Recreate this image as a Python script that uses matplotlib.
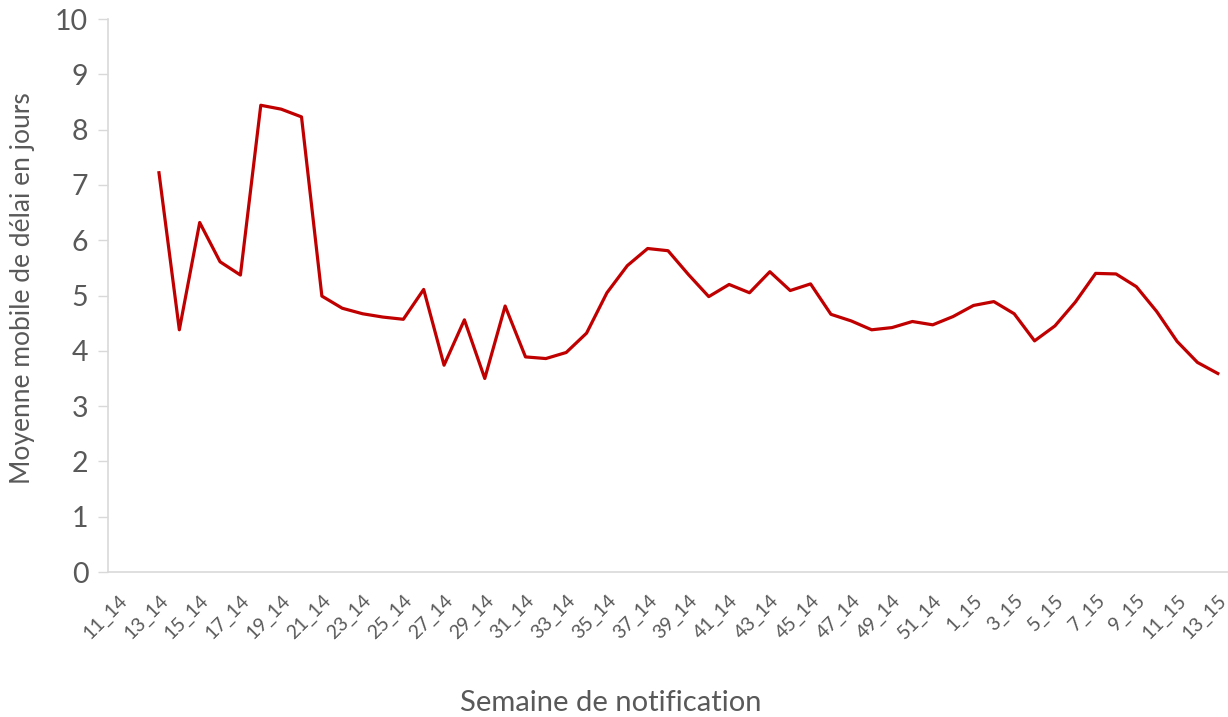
import numpy as np
import matplotlib.pyplot as plt

# weeks 11_14 .. 52_14 then 1_15 .. 13_15
semaines = [f"{w}_14" for w in range(11, 53)] + [f"{w}_15" for w in range(1, 14)]

# moving average of delay (days), nothing for the first two weeks
delai = [np.nan, np.nan,
         7.22, 4.38, 6.32, 5.61, 5.37, 8.44, 8.37, 8.23, 4.99, 4.77,
         4.67, 4.61, 4.57, 5.11, 3.74, 4.56, 3.50, 4.81, 3.89, 3.86,
         3.97, 4.32, 5.05, 5.54, 5.85, 5.81, 5.38, 4.98, 5.20, 5.05,
         5.43, 5.09, 5.21, 4.66, 4.54, 4.38, 4.42, 4.53, 4.47, 4.62,
         4.82, 4.89, 4.67, 4.18, 4.45, 4.88, 5.40, 5.39, 5.16, 4.71,
         4.17, 3.79, 3.59]

plt.rcParams['font.family'] = ['Lato', 'DejaVu Sans']
gris = '#595959'

fig = plt.figure(figsize=(12.28, 7.17), dpi=100)
ax = fig.add_axes([0.088, 0.2022, 0.912, 0.7713])

x = np.arange(len(semaines))
ax.plot(x, delai, color='#C00000', lw=2.3)

ax.set_xlim(-0.5, len(semaines) - 0.5)
ax.set_ylim(0, 10)
ax.set_yticks(range(0, 11))
ax.tick_params(axis='y', labelsize=20.5, colors='#d9d9d9', labelcolor=gris,
               length=7.2, width=1, pad=7)

ax.set_xticks(x[::2])
ax.set_xticklabels(semaines[::2], rotation=45, ha='right',
                   rotation_mode='anchor', fontsize=14, color=gris)
ax.tick_params(axis='x', length=0, pad=14)

for s in ['top', 'right']:
    ax.spines[s].set_visible(False)
for s in ['left', 'bottom']:
    ax.spines[s].set_color('#d9d9d9')
    ax.spines[s].set_linewidth(1.2)

fig.text(0.018, 0.598, 'Moyenne mobile de délai en jours', fontsize=19, color=gris,
         rotation=90, ha='center', va='center')
fig.text(0.497, 0.008, 'Semaine de notification', fontsize=21, color=gris,
         ha='center', va='baseline')

fig.savefig('out.png', dpi=100)
